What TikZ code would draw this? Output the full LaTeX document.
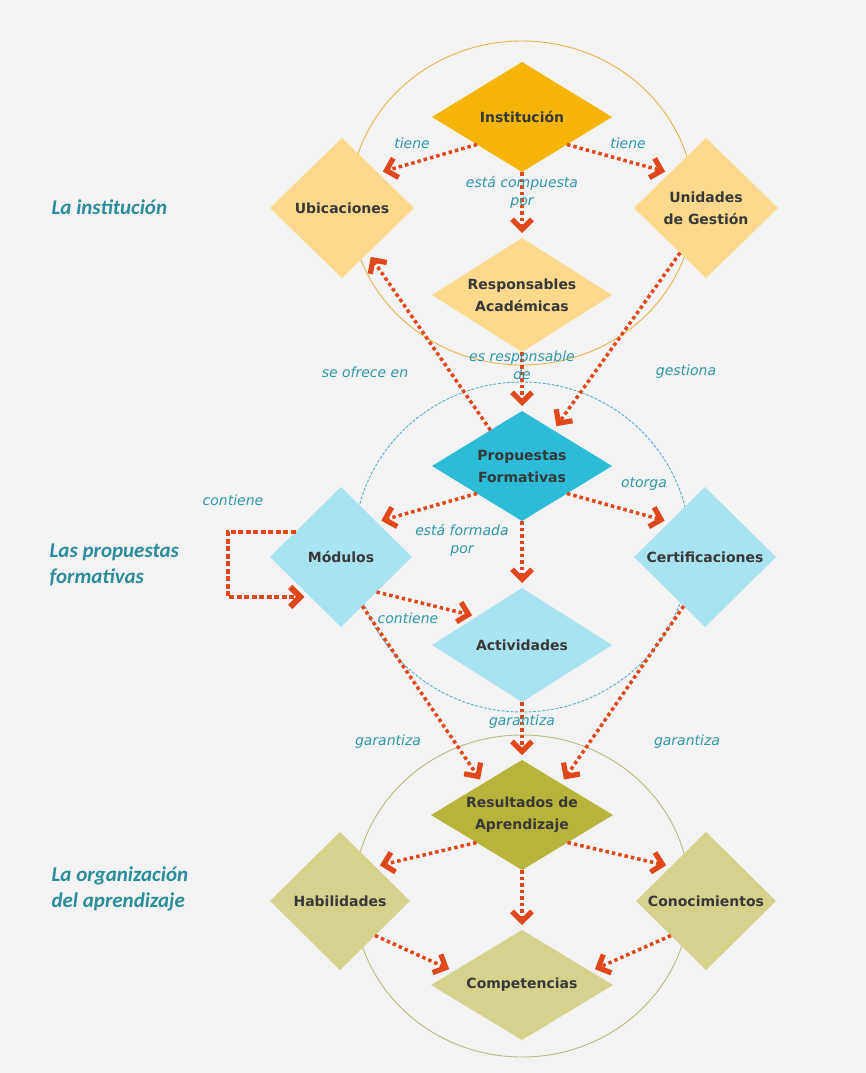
\documentclass[tikz,border=0pt]{standalone}
\usepackage{fontspec}
\setmainfont{DejaVu Sans}
\newfontfamily\secfont{Carlito}
\usetikzlibrary{shapes.geometric,arrows.meta,calc}
\definecolor{bg}{HTML}{F3F3F3}
\definecolor{instc}{HTML}{F4B507}
\definecolor{ltyel}{HTML}{FCD98C}
\definecolor{pfc}{HTML}{2CBCD8}
\definecolor{ltcyan}{HTML}{A9E2F1}
\definecolor{resc}{HTML}{B7B43C}
\definecolor{ltol}{HTML}{D5D28D}
\definecolor{arr}{HTML}{E0481C}
\definecolor{teal}{HTML}{2B8C9B}
\definecolor{elab}{HTML}{2E97AA}
\definecolor{txt}{HTML}{383838}
\definecolor{circo}{HTML}{E6B44E}
\definecolor{circb}{HTML}{5AAECF}
\definecolor{circg}{HTML}{BDB784}
\tikzset{
  dia/.style={diamond, fill=#1, draw=none, inner sep=0pt, outer sep=0pt, shape aspect=1},
  ntext/.style={font=\bfseries\fontsize{14}{22}\selectfont, text=txt, align=center},
  elabel/.style={font=\itshape\fontsize{14}{18}\selectfont, text=elab, align=center},
  seclabel/.style={font=\secfont\bfseries\itshape\fontsize{21}{26}\selectfont, text=teal, align=left, anchor=west},
  tipv/.tip={Straight Barb[length=10pt,width=20pt,line width=0pt 1.5]},
  conn/.style={draw=arr, line width=3.5pt, dash pattern=on 3.5pt off 3pt,
    -tipv, shorten >=5pt},
  loopc/.style={draw=arr, line width=4pt, dash pattern=on 5pt off 2.5pt,
    -tipv, shorten >=6pt}
}
\begin{document}
\begin{tikzpicture}[x=1pt,y=-1pt]
\useasboundingbox (0,0) rectangle (866,1073);
\fill[bg] (0,0) rectangle (866,1073);
% circles
\draw[circo, line width=0.9pt] (522,203) ellipse [x radius=172, y radius=162];
\draw[circb, line width=0.9pt, dash pattern=on 3pt off 1.5pt] (522,547) ellipse [x radius=168, y radius=165];
\draw[circg, line width=0.9pt] (522,896) ellipse [x radius=168, y radius=161];
% diamonds
\node[dia=instc, minimum width=180, minimum height=110] (inst) at (522,117) {};
\node[dia=ltyel, minimum width=144, minimum height=140] (ubic) at (342,208) {};
\node[dia=ltyel, minimum width=144, minimum height=140] (unid) at (706,208) {};
\node[dia=ltyel, minimum width=180, minimum height=114] (resp) at (522,295) {};
\node[dia=pfc, minimum width=180, minimum height=110] (pf) at (522,466) {};
\node[dia=ltcyan, minimum width=142, minimum height=140] (mod) at (341,557) {};
\node[dia=ltcyan, minimum width=142, minimum height=140] (cert) at (705,557) {};
\node[dia=ltcyan, minimum width=180, minimum height=114] (act) at (522,645) {};
\node[dia=resc, minimum width=182, minimum height=110] (res) at (522,815) {};
\node[dia=ltol, minimum width=140, minimum height=138] (hab) at (340,901) {};
\node[dia=ltol, minimum width=140, minimum height=138] (conoc) at (706,901) {};
\node[dia=ltol, minimum width=182, minimum height=110] (comp) at (522,985) {};
% node texts
\node[ntext] at (inst) {Institución};
\node[ntext] at (ubic) {Ubicaciones};
\node[ntext] at (unid) {Unidades\\de Gestión};
\node[ntext] at (resp) {Responsables\\Académicas};
\node[ntext] at (pf) {Propuestas\\Formativas};
\node[ntext] at (mod) {Módulos};
\node[ntext] at (cert) {Certificaciones};
\node[ntext] at (act) {Actividades};
\node[ntext] at (res) {Resultados de\\Aprendizaje};
\node[ntext] at (hab) {Habilidades};
\node[ntext] at (conoc) {Conocimientos};
\node[ntext] at (comp) {Competencias};
% connectors
\draw[conn] (inst.south west) -- (ubic.north east);
\draw[conn] (inst.south east) -- (unid.north west);
\draw[conn] (inst.south) -- (resp.north);
\draw[conn] ($(pf.north)!0.35!(pf.west)$) -- ($(ubic.east)!0.64!(ubic.south)$);
\draw[conn] ($(unid.west)!0.64!(unid.south)$) -- ($(pf.north)!0.35!(pf.east)$);
\draw[conn] (resp.south) -- (pf.north);
\draw[conn] (pf.south west) -- (mod.north east);
\draw[conn] (pf.south east) -- (cert.north west);
\draw[conn] (pf.south) -- (act.north);
\coordinate (ms) at ($(mod.west)!0.36!(mod.north)$);
\coordinate (me) at ($(mod.west)!0.57!(mod.south)$);
\draw[loopc] (ms) -- ++(-68,0) |- (me);
\draw[conn] (mod.south east) -- (act.north west);
\draw[conn] ($(mod.east)!0.7!(mod.south)$) -- ($(res.west)!0.57!(res.north)$);
\draw[conn] (act.south) -- (res.north);
\draw[conn] ($(cert.west)!0.7!(cert.south)$) -- ($(res.east)!0.57!(res.north)$);
\draw[conn] (res.south west) -- (hab.north east);
\draw[conn] (res.south east) -- (conoc.north west);
\draw[conn] (res.south) -- (comp.north);
\draw[conn] (hab.south east) -- ($(comp.west)!0.25!(comp.north)$);
\draw[conn] (conoc.south west) -- ($(comp.east)!0.25!(comp.north)$);
% edge labels
\node[elabel] (l1) at (412,143) {tiene};
\node[elabel] (l2) at (628,143) {tiene};
\node[elabel] (l3) at (522,192) {está compuesta\\por};
\node[elabel] (l4) at (365,372) {se ofrece en};
\node[elabel] (l5) at (522,365) {es responsable\\de};
\node[elabel] (l6) at (686,372) {gestiona};
\node[elabel] (l7) at (233,500) {contiene};
\node[elabel] (l8) at (644,484) {otorga};
\node[elabel] (l9) at (462,540) {está formada\\por};
\node[elabel] (l10) at (408,618) {contiene};
\node[elabel] (l11) at (522,722) {garantiza};
\node[elabel] (l12) at (388,742) {garantiza};
\node[elabel] (l13) at (687,742) {garantiza};
% section labels
\node[seclabel] (s1) at (48,207) {La institución};
\node[seclabel] (s2) at (46,565) {Las propuestas\\formativas};
\node[seclabel] (s3) at (48,889) {La organización\\del aprendizaje};
\end{tikzpicture}
\end{document}
